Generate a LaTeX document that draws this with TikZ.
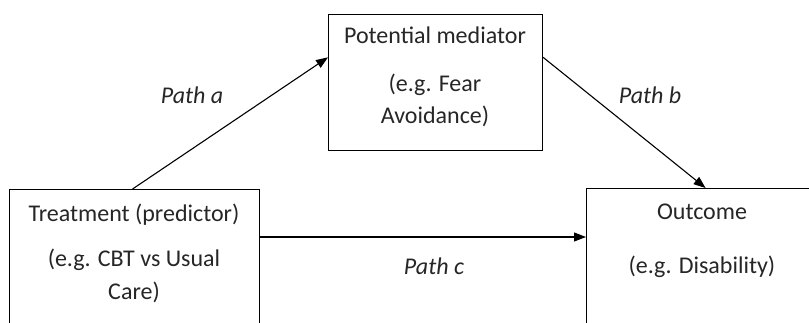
\documentclass[tikz,border=0pt]{standalone}
\usepackage{fontspec}
\setmainfont{Carlito}
\usetikzlibrary{arrows.meta,calc}
\tikzset{
  box/.style={draw=black, line width=1.1pt, minimum width=#1, anchor=north west, inner sep=0pt},
  txt/.style={font=\fontsize{24}{28}\selectfont, text=black!85, inner sep=0pt, anchor=base},
  lbl/.style={font=\fontsize{24}{28}\selectfont\itshape, text=black!85, inner sep=0pt, anchor=base},
  conn/.style={line width=1.1pt, -{Triangle[length=12pt,width=9pt]}}
}
\begin{document}
\begin{tikzpicture}[x=1pt,y=-1pt]
\useasboundingbox (0,0) rectangle (809,323);
\clip (0,0) rectangle (809,323);
\node[box=250pt, minimum height=170pt] (treat) at (9,189) {};
\node[box=214pt, minimum height=136pt] (med) at (328,14) {};
\node[box=260pt, minimum height=170pt] (out) at (586,188) {};
% texts
\node[txt] (t1) at (134,222) {Treatment (predictor)};
\node[txt] (t2) at (134,267) {(e.g. CBT vs Usual};
\node[txt] (t3) at (134,300) {Care)};
\node[txt] (m1) at (435,44) {Potential mediator};
\node[txt] (m2) at (435,92) {(e.g. Fear};
\node[txt] (m3) at (435,124) {Avoidance)};
\node[txt] (o1) at (702,220) {Outcome};
\node[txt] (o2) at (702,274) {(e.g. Disability)};
\node[lbl] (la) at (192,104) {Path a};
\node[lbl] (lb) at (650,104) {Path b};
\node[lbl] (lc) at (434,275) {Path c};
% connectors
\coordinate (aS) at ($(treat.north west)!0.492!(treat.north east)$);
\coordinate (aE) at ($(med.north west)!0.316!(med.south west)$);
\coordinate (bS) at ($(med.north east)!0.316!(med.south east)$);
\coordinate (bE) at ($(out.north west)!0.458!(out.north east)$);
\coordinate (cS) at ($(treat.north east)+(0,48)$);
\draw[conn] (aS) -- (aE);
\draw[conn] (bS) -- (bE);
\draw[conn] (cS) -- (cS -| out.west);
\end{tikzpicture}
\end{document}
